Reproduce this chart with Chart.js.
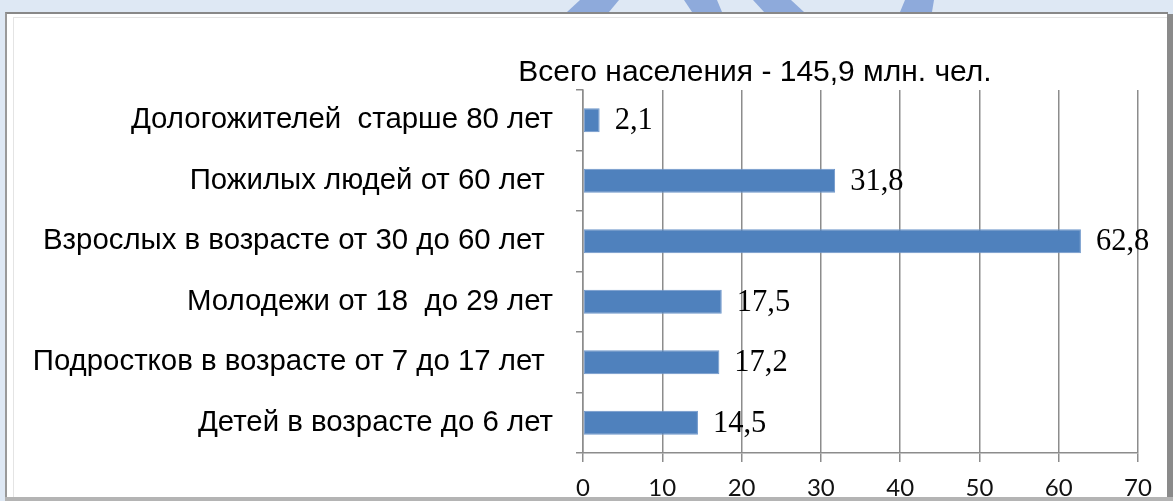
<!DOCTYPE html>
<html>
<head>
<meta charset="utf-8">
<script src="https://cdn.jsdelivr.net/npm/chart.js@4"></script>
<style>
  html, body { margin: 0; padding: 0; }
  body { width: 1173px; height: 501px; background: #dee8f4; position: relative; overflow: hidden; }
  #mark { position: absolute; left: 0; top: 0; }
  #frame {
    position: absolute; left: 5px; top: 12px; width: 1163px; height: 489px;
    background: #fff; box-sizing: border-box;
    border-top: 2px solid #888; border-left: 2px solid #999;
  }
  #frame-inner { position: absolute; left: 6px; top: 3px; right: 0; bottom: 0; border-top: 1px solid #e4e4e4; border-left: 1px solid #e4e4e4; }
  #chart { position: absolute; left: 0; top: 0; }
  #edge-right { position: absolute; left: 1167px; top: 14px; width: 6px; height: 487px; background: #8a8a8a; }
  #edge-bottom { position: absolute; left: 5px; top: 497px; width: 1168px; height: 4px; background: #b4b4b4; }
</style>
</head>
<body>
<svg id="mark" width="1173" height="12">
  <polygon points="567,12 580,0 619,0 609,12" fill="#8eaadb"/>
  <polygon points="692,12 684,0 717,0 722,12" fill="#8eaadb"/>
  <polygon points="764,12 753,0 791,0 804,12" fill="#8eaadb"/>
  <polygon points="900,12 905,0 934,0 932,12" fill="#8eaadb"/>
</svg>
<div id="frame"><div id="frame-inner"></div></div>
<canvas id="chart" width="1173" height="501"></canvas>
<div id="edge-right"></div>
<div id="edge-bottom"></div>
<script>
const categories = [
  'Дологожителей  старше 80 лет',
  'Пожилых людей от 60 лет ',
  'Взрослых в возрасте от 30 до 60 лет ',
  'Молодежи от 18  до 29 лет',
  'Подростков в возрасте от 7 до 17 лет ',
  'Детей в возрасте до 6 лет'
];
const population = [2.1, 31.8, 62.8, 17.5, 17.2, 14.5];
const titleText = 'Всего населения - 145,9 млн. чел.';
const xMin = 0, xMax = 70, xStep = 10;

const gridColor = '#8c8c8c';

// title sits over the plot, not centred on the canvas
const titlePlugin = {
  id: 'fixedTitle',
  afterDraw(chart) {
    const ctx = chart.ctx;
    ctx.save();
    ctx.font = '30px "Liberation Sans", Arial, sans-serif';
    ctx.fillStyle = '#000';
    ctx.textAlign = 'center';
    ctx.textBaseline = 'middle';
    ctx.fillText(titleText, 755, 73);
    ctx.restore();
  }
};

// value labels to the right of each bar
const valueLabels = {
  id: 'valueLabels',
  afterDatasetsDraw(chart) {
    const ctx = chart.ctx;
    const meta = chart.getDatasetMeta(0);
    ctx.save();
    ctx.font = '30.5px "Liberation Serif", "Times New Roman", serif';
    ctx.fillStyle = '#000';
    ctx.textAlign = 'left';
    ctx.textBaseline = 'middle';
    meta.data.forEach((bar, i) => {
      const txt = String(population[i]).replace('.', ',');
      ctx.fillText(txt, bar.x + 15, bar.y + 1);
    });
    ctx.restore();
  }
};

const ctx = document.getElementById('chart').getContext('2d');
new Chart(ctx, {
  type: 'bar',
  data: {
    labels: categories,
    datasets: [{
      data: population,
      backgroundColor: '#4f81bd',
      borderColor: '#6f97cb',
      borderWidth: 1,
      borderSkipped: false,
      categoryPercentage: 1,
      barPercentage: 0.4
    }]
  },
  options: {
    indexAxis: 'y',
    responsive: false,
    animation: false,
    layout: { padding: { top: 90, right: 35, left: 0, bottom: 0 } },
    plugins: {
      legend: { display: false },
      title: { display: false },
      tooltip: { enabled: false }
    },
    scales: {
      x: {
        min: xMin,
        max: xMax,
        afterFit(scale) { scale.height = 48; },
        ticks: {
          stepSize: xStep,
          padding: 12,
          color: '#111',
          font: { family: 'Lato, "Open Sans", sans-serif', size: 24 }
        },
        grid: { color: gridColor, lineWidth: 1.5, tickLength: 9, drawTicks: true },
        border: { color: gridColor, width: 1.5 }
      },
      y: {
        afterFit(scale) { scale.width = 583; },
        ticks: {
          padding: 23,
          color: '#000',
          font: { family: '"Liberation Sans", Arial, sans-serif', size: 29.4 }
        },
        grid: { offset: true, drawOnChartArea: false, drawTicks: true, tickLength: 7, color: gridColor, lineWidth: 1.5 },
        border: { color: gridColor, width: 1.5 }
      }
    }
  },
  plugins: [titlePlugin, valueLabels]
});
</script>
</body>
</html>
